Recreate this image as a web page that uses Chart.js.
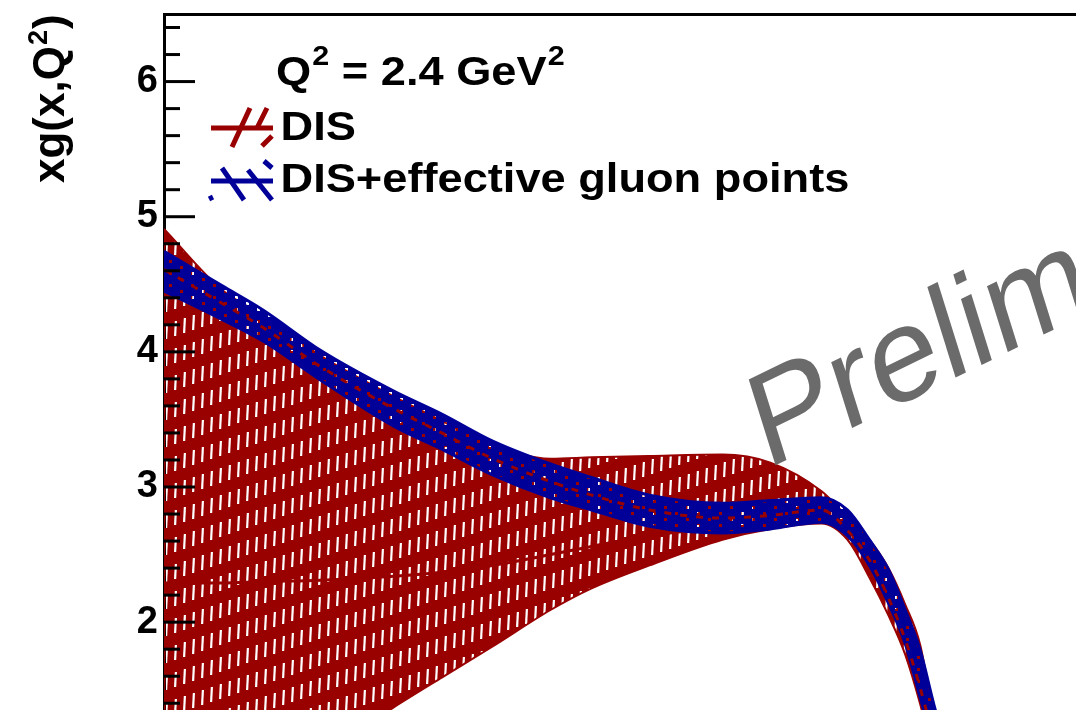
<!DOCTYPE html>
<html>
<head>
<meta charset="utf-8">
<script src="https://cdn.jsdelivr.net/npm/chart.js@4.4.1/dist/chart.umd.min.js"></script>
<style>
  html, body { margin: 0; padding: 0; overflow: hidden; background: #ffffff; width: 1076px; height: 710px; }
  canvas { display: block; }
</style>
</head>
<body>
<canvas id="gluon" width="1160" height="710"></canvas>
<script>
// x grid (log scale) and xg(x,Q^2) curves at Q^2 = 2.4 GeV^2
const xValues = [0.001, 0.0015, 0.002, 0.003, 0.005, 0.007, 0.01, 0.015, 0.02, 0.03,
                 0.05, 0.07, 0.1, 0.12, 0.14, 0.16, 0.18, 0.2, 0.22, 0.25];

// DIS-only fit: total uncertainty band and central value
const disUpper   = [4.91, 4.46, 4.27, 3.97, 3.67, 3.49, 3.31, 3.21, 3.22, 3.23,
                    3.24, 3.18, 2.97, 2.78, 2.61, 2.40, 2.13, 1.83, 1.29, 0.76];
const disLower   = [0.28, 0.55, 0.74, 1.02, 1.37, 1.59, 1.82, 2.09, 2.25, 2.42,
                    2.61, 2.69, 2.73, 2.61, 2.33, 2.05, 1.76, 1.39, 0.98, 0.46];
const disCentral = [4.61, 4.36, 4.18, 3.89, 3.58, 3.40, 3.21, 3.04, 2.94, 2.83,
                    2.77, 2.79, 2.83, 2.68, 2.46, 2.18, 1.87, 1.51, 1.14, 0.69];
// inner edge of the DIS model/parametrisation component
const disInner   = [2.29, 2.29, 2.30, 2.31, 2.34, 2.37, 2.42, 2.50, 2.56, 2.64,
                    2.70, null, null, null, null, null, null, null, null, null];

// DIS + effective gluon points fit
const effUpper   = [4.745, 4.49, 4.31, 4.01, 3.71, 3.54, 3.34, 3.17, 3.07, 2.94,
                    2.88, 2.90, 2.92, 2.83, 2.61, 2.39, 2.09, 1.79, 1.39, 0.91];
const effLower   = [4.45, 4.24, 4.08, 3.79, 3.45, 3.28, 3.09, 2.92, 2.83, 2.71,
                    2.66, 2.69, 2.74, 2.64, 2.42, 2.14, 1.84, 1.44, 1.09, 0.61];

const yMajorTicks = [2, 3, 4, 5, 6];
const legendTitle = ['Q', '2', ' = 2.4 GeV', '2'];
const legendLabels = ['DIS', 'DIS+effective gluon points'];
const axisTitle = ['xg(x,Q', '2', ')'];
const watermark = 'Preliminary';

const RED = '#990000';
const BLUE = '#000099';
const FONT = '"Liberation Sans", Arial, Helvetica, sans-serif';

// hatch fills: coloured sheet with transparent slits / holes
function redHatch() {
  const c = document.createElement('canvas');
  c.width = 81; c.height = 27;
  const g = c.getContext('2d');
  g.fillStyle = RED; g.fillRect(0, 0, 81, 27);
  g.globalCompositeOperation = 'destination-out';
  for (let i = 0; i < 9; i++) {
    const x = i * 9 + 3;
    const y0 = (27 - i * 3) % 27;
    for (const dy of [-27, 0, 27]) {
      const y = y0 + dy;
      g.beginPath();
      g.moveTo(x, y + 15); g.lineTo(x + 2.2, y + 15);
      g.lineTo(x + 3.0, y); g.lineTo(x + 0.8, y);
      g.closePath(); g.fill();
    }
  }
  return g.createPattern(c, 'repeat');
}
function blueHatch() {
  const c = document.createElement('canvas');
  c.width = 22; c.height = 12;
  const g = c.getContext('2d');
  g.fillStyle = BLUE; g.fillRect(0, 0, 22, 12);
  g.globalCompositeOperation = 'destination-out';
  g.fillRect(4, 2, 3, 3);
  g.fillRect(15, 8, 3, 3);
  return g.createPattern(c, 'repeat');
}

const toPts = arr => xValues.map((x, i) => ({ x: x, y: arr[i] }));

// inward-pointing frame ticks (major + minor) on the y axis
const frameTicks = {
  id: 'frameTicks',
  afterDatasetsDraw(chart) {
    const { ctx, chartArea, scales } = chart;
    const y = scales.y;
    ctx.save();
    ctx.strokeStyle = '#000'; ctx.lineWidth = 3;
    for (let k = 7; k <= 32; k++) {
      const v = k / 5;
      const p = y.getPixelForValue(v);
      if (p < chartArea.top + 2 || p > chartArea.bottom) continue;
      const major = (k % 5 === 0);
      ctx.beginPath();
      ctx.moveTo(chartArea.left, p);
      ctx.lineTo(chartArea.left + (major ? 31 : 16), p);
      ctx.stroke();
    }
    ctx.restore();
  }
};

// legend, y title and watermark drawn on top
const decorations = {
  id: 'decorations',
  afterDraw(chart) {
    const ctx = chart.ctx;
    ctx.save();
    // watermark
    ctx.save();
    ctx.fillStyle = '#6b6b6b';
    ctx.font = '130px ' + FONT;
    const a = 26 * Math.PI / 180;
    ctx.setTransform(Math.cos(a), -Math.sin(a), 0.30, 0.96, 766, 470);
    ctx.fillText(watermark, 0, 0);
    ctx.restore();

    // y axis title (rotated)
    ctx.save();
    ctx.translate(64, 183);
    ctx.rotate(-Math.PI / 2);
    ctx.fillStyle = '#000';
    ctx.font = 'bold 44px ' + FONT;
    let w = ctx.measureText(axisTitle[0]).width;
    ctx.fillText(axisTitle[0], 0, 0);
    ctx.font = 'bold 27px ' + FONT;
    ctx.fillText(axisTitle[1], w + 1, -17);
    w += ctx.measureText(axisTitle[1]).width + 2;
    ctx.font = 'bold 44px ' + FONT;
    ctx.fillText(axisTitle[2], w, 0);
    ctx.restore();

    // legend header and entries (slightly widened lettering)
    ctx.save();
    ctx.fillStyle = '#000';
    ctx.textBaseline = 'alphabetic';
    ctx.translate(276, 0);
    ctx.scale(1.13, 1);
    let x = 0;
    ctx.font = 'bold 40px ' + FONT;
    ctx.fillText(legendTitle[0], x, 85); x += ctx.measureText(legendTitle[0]).width + 1;
    ctx.font = 'bold 27px ' + FONT;
    ctx.fillText(legendTitle[1], x, 65); x += ctx.measureText(legendTitle[1]).width;
    ctx.font = 'bold 40px ' + FONT;
    ctx.fillText(legendTitle[2], x, 85); x += ctx.measureText(legendTitle[2]).width + 1;
    ctx.font = 'bold 27px ' + FONT;
    ctx.fillText(legendTitle[3], x, 65);
    ctx.font = 'bold 40px ' + FONT;
    ctx.fillText(legendLabels[0], 4, 140);
    ctx.fillText(legendLabels[1], 4, 192);
    ctx.restore();

    // legend symbols
    ctx.lineCap = 'butt';
    ctx.strokeStyle = RED; ctx.lineWidth = 5;
    ctx.beginPath(); ctx.moveTo(211, 128); ctx.lineTo(273, 128); ctx.stroke();
    ctx.beginPath();
    ctx.moveTo(232, 147); ctx.lineTo(250, 108);
    ctx.moveTo(257, 128); ctx.lineTo(267, 108);
    ctx.moveTo(262, 146); ctx.lineTo(272, 136);
    ctx.stroke();
    ctx.strokeStyle = BLUE;
    ctx.beginPath(); ctx.moveTo(211, 181); ctx.lineTo(273, 181); ctx.stroke();
    ctx.beginPath();
    ctx.moveTo(222, 168); ctx.lineTo(244, 200);
    ctx.moveTo(248, 170); ctx.lineTo(272, 200);
    ctx.moveTo(264, 161); ctx.lineTo(272, 168);
    ctx.moveTo(209, 199); ctx.lineTo(213, 197);
    ctx.stroke();
    ctx.restore();
  }
};

new Chart(document.getElementById('gluon'), {
  type: 'line',
  data: {
    datasets: [
      { label: 'DIS upper', data: toPts(disUpper), order: 10, fill: '+1',
        backgroundColor: redHatch(), borderColor: RED, borderWidth: 2, pointRadius: 0 },
      { label: 'DIS lower', data: toPts(disLower), order: 9, fill: false,
        borderColor: RED, borderWidth: 2, pointRadius: 0 },
      { label: 'DIS inner', data: toPts(disInner), order: 8, fill: false,
        borderColor: RED, borderWidth: 3, pointRadius: 0, spanGaps: false },
      { label: 'DIS+eff upper', data: toPts(effUpper), order: 6, fill: '+1',
        backgroundColor: blueHatch(), borderColor: BLUE, borderWidth: 3, pointRadius: 0 },
      { label: 'DIS+eff lower', data: toPts(effLower), order: 5, fill: false,
        borderColor: BLUE, borderWidth: 3, pointRadius: 0 },
      { label: 'DIS central', data: toPts(disCentral), order: 2, fill: false,
        borderColor: RED, borderWidth: 3, borderDash: [7, 9], pointRadius: 0 }
    ]
  },
  options: {
    responsive: false,
    animation: false,
    events: [],
    layout: { padding: { left: 0, right: 10, top: 0, bottom: 0 } },
    elements: { line: { tension: 0.35, cubicInterpolationMode: 'monotone' } },
    plugins: { legend: { display: false }, tooltip: { enabled: false } },
    scales: {
      x: { type: 'logarithmic', min: 0.001, max: 1, display: false },
      xTop: { type: 'linear', position: 'top', min: 0, max: 1, display: true,
        ticks: { display: false }, grid: { display: false, drawTicks: false },
        border: { display: true, width: 3, color: '#000' },
        afterFit(s) { s.height = 14; s.paddingLeft = 0; s.paddingRight = 0; } },
      y: {
        type: 'linear', min: 1.35, max: 6.5,
        afterFit(s) { s.width = 164; s.paddingTop = 0; s.paddingBottom = 0; },
        afterBuildTicks(s) { s.ticks = yMajorTicks.map(v => ({ value: v })); },
        grid: { display: false, drawTicks: false },
        border: { display: true, width: 3, color: '#000' },
        ticks: { padding: 6, color: '#000', font: { family: FONT, size: 38, weight: 'bold' } }
      }
    }
  },
  plugins: [frameTicks, decorations]
});
</script>
</body>
</html>
